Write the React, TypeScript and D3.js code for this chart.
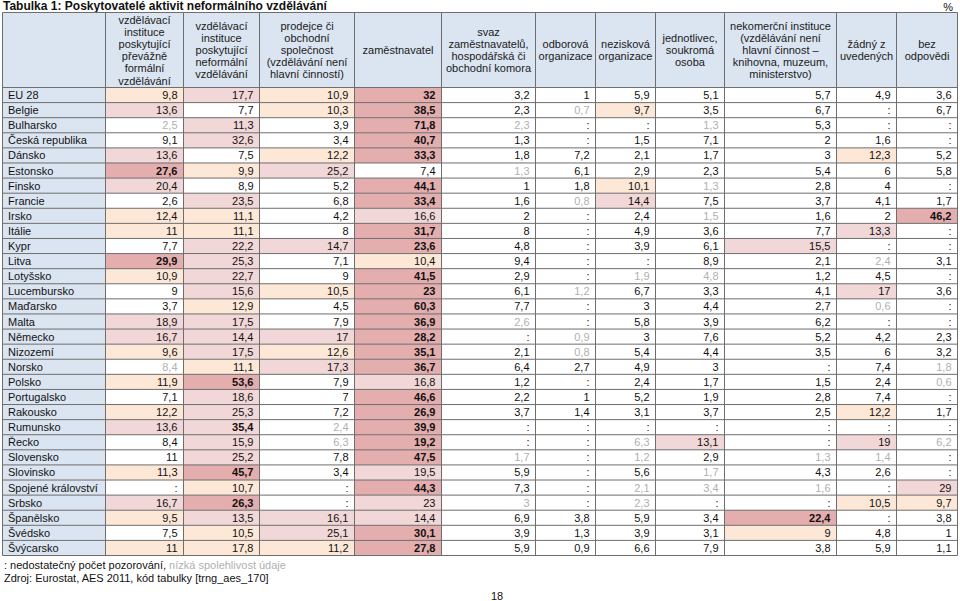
import React from "react";
import * as d3 from "d3";

// ---------- DATA ----------
const title = "Tabulka 1: Poskytovatelé aktivit neformálního vzdělávání";
const unitLabel = "%";

const columnHeaders: string[][] = [
  ["vzdělávací", "instituce", "poskytující", "převážně", "formální", "vzdělávání"],
  ["vzdělávací", "instituce", "poskytující", "neformální", "vzdělávání"],
  ["prodejce či", "obchodní", "společnost", "(vzdělávání není", "hlavní činností)"],
  ["zaměstnavatel"],
  ["svaz", "zaměstnavatelů,", "hospodářská či", "obchodní komora"],
  ["odborová", "organizace"],
  ["nezisková", "organizace"],
  ["jednotlivec,", "soukromá", "osoba"],
  ["nekomerční instituce", "(vzdělávání není", "hlavní činnost –", "knihovna, muzeum,", "ministerstvo)"],
  ["žádný z", "uvedených"],
  ["bez", "odpovědi"],
];

const countries = [
  "EU 28", "Belgie", "Bulharsko", "Česká republika", "Dánsko", "Estonsko", "Finsko",
  "Francie", "Irsko", "Itálie", "Kypr", "Litva", "Lotyšsko", "Lucembursko", "Maďarsko",
  "Malta", "Německo", "Nizozemí", "Norsko", "Polsko", "Portugalsko", "Rakousko",
  "Rumunsko", "Řecko", "Slovensko", "Slovinsko", "Spojené království", "Srbsko",
  "Španělsko", "Švédsko", "Švýcarsko",
];

const N = null;
// values per country (null = ":" insufficient observations)
const values: (number | null)[][] = [
  [9.8, 17.7, 10.9, 32, 3.2, 1, 5.9, 5.1, 5.7, 4.9, 3.6],
  [13.6, 7.7, 10.3, 38.5, 2.3, 0.7, 9.7, 3.5, 6.7, N, 6.7],
  [2.5, 11.3, 3.9, 71.8, 2.3, N, N, 1.3, 5.3, N, N],
  [9.1, 32.6, 3.4, 40.7, 1.3, N, 1.5, 7.1, 2, 1.6, N],
  [13.6, 7.5, 12.2, 33.3, 1.8, 7.2, 2.1, 1.7, 3, 12.3, 5.2],
  [27.6, 9.9, 25.2, 7.4, 1.3, 6.1, 2.9, 2.3, 5.4, 6, 5.8],
  [20.4, 8.9, 5.2, 44.1, 1, 1.8, 10.1, 1.3, 2.8, 4, N],
  [2.6, 23.5, 6.8, 33.4, 1.6, 0.8, 14.4, 7.5, 3.7, 4.1, 1.7],
  [12.4, 11.1, 4.2, 16.6, 2, N, 2.4, 1.5, 1.6, 2, 46.2],
  [11, 11.1, 8, 31.7, 8, N, 4.9, 3.6, 7.7, 13.3, N],
  [7.7, 22.2, 14.7, 23.6, 4.8, N, 3.9, 6.1, 15.5, N, N],
  [29.9, 25.3, 7.1, 10.4, 9.4, N, N, 8.9, 2.1, 2.4, 3.1],
  [10.9, 22.7, 9, 41.5, 2.9, N, 1.9, 4.8, 1.2, 4.5, N],
  [9, 15.6, 10.5, 23, 6.1, 1.2, 6.7, 3.3, 4.1, 17, 3.6],
  [3.7, 12.9, 4.5, 60.3, 7.7, N, 3, 4.4, 2.7, 0.6, N],
  [18.9, 17.5, 7.9, 36.9, 2.6, N, 5.8, 3.9, 6.2, N, N],
  [16.7, 14.4, 17, 28.2, N, 0.9, 3, 7.6, 5.2, 4.2, 2.3],
  [9.6, 17.5, 12.6, 35.1, 2.1, 0.8, 5.4, 4.4, 3.5, 6, 3.2],
  [8.4, 11.1, 17.3, 36.7, 6.4, 2.7, 4.9, 3, N, 7.4, 1.8],
  [11.9, 53.6, 7.9, 16.8, 1.2, N, 2.4, 1.7, 1.5, 2.4, 0.6],
  [7.1, 18.6, 7, 46.6, 2.2, 1, 5.2, 1.9, 2.8, 7.4, N],
  [12.2, 25.3, 7.2, 26.9, 3.7, 1.4, 3.1, 3.7, 2.5, 12.2, 1.7],
  [13.6, 35.4, 2.4, 39.9, N, N, N, N, N, N, N],
  [8.4, 15.9, 6.3, 19.2, N, N, 6.3, 13.1, N, 19, 6.2],
  [11, 25.2, 7.8, 47.5, 1.7, N, 1.2, 2.9, 1.3, 1.4, N],
  [11.3, 45.7, 3.4, 19.5, 5.9, N, 5.6, 1.7, 4.3, 2.6, N],
  [N, 10.7, N, 44.3, 7.3, N, 2.1, 3.4, 1.6, N, 29],
  [16.7, 26.3, N, 23, 3, N, 2.3, N, N, 10.5, 9.7],
  [9.5, 13.5, 16.1, 14.4, 6.9, 3.8, 5.9, 3.4, 22.4, N, 3.8],
  [7.5, 10.5, 25.1, 30.1, 3.9, 1.3, 3.9, 3.1, 9, 4.8, 1],
  [11, 17.8, 11.2, 27.8, 5.9, 0.9, 6.6, 7.9, 3.8, 5.9, 1.1],
];

// highlight class per cell (0 none, 1 light, 2 medium, 3 strong)
const highlight: string[] = [
  "12130000000",
  "20130010000",
  "02030000000",
  "02030000000",
  "20130000010",
  "31200000000",
  "20030010000",
  "02030020000",
  "11020000003",
  "11030000020",
  "02230000200",
  "32010000000",
  "12030000000",
  "02130000020",
  "01030000000",
  "22030000000",
  "22230000000",
  "12130000000",
  "01230000000",
  "13020000000",
  "02030000000",
  "12030000010",
  "22030000000",
  "02030002020",
  "02030000000",
  "13020000000",
  "01030000002",
  "23020000011",
  "12220000300",
  "01230000100",
  "11130000000",
];

// low reliability flags per cell
const lowReliability: string[] = [
  "00000000000",
  "00000100000",
  "10001001000",
  "00000000000",
  "00000000000",
  "00001000000",
  "00000001000",
  "00000100000",
  "00000001000",
  "00000000000",
  "00000000000",
  "00000000010",
  "00000011000",
  "00000100000",
  "00000000010",
  "00001000000",
  "00000100000",
  "00000100000",
  "10000000001",
  "00000000001",
  "00000000000",
  "00000000000",
  "00100000000",
  "00100010001",
  "00001010110",
  "00000001000",
  "00000011100",
  "00001010000",
  "00000000000",
  "00000000000",
  "00000000000",
];

// bold (highest) cells per row: column indexes
const boldCells: number[][] = [
  [3], [3], [3], [3], [3], [0], [3], [3], [10], [3], [3], [0], [3], [3], [3], [3],
  [3], [3], [3], [1], [3], [3], [1, 3], [3], [3], [1], [3], [1], [8], [3], [3],
];

const footnoteA = ": nedostatečný počet pozorování, ";
const footnoteB = "nízká spolehlivost údaje";
const source = "Zdroj: Eurostat, AES 2011, kód tabulky [trng_aes_170]";
const pageNumber = "18";

// ---------- LAYOUT ----------
const W = 960;
const H = 601;
const tableLeft = 2.5;
const colWidths = [103, 78, 76, 95, 87, 94, 60, 60, 69, 112, 60, 61];
const headerTop = 12.5;
const headerBottom = 87.5;
const tableBottom = 555.5;

const fillColors = ["#ffffff", "#fde8d8", "#f1d7d7", "#e4adae"];
const blueBg = "#dbe5f1";
const lineColor = "#6e6e6e";
const grayText = "#b0b0b0";
const font = "Arial, 'Liberation Sans', Helvetica, sans-serif";

function fmt(v: number | null) {
  if (v === null) return ":";
  return String(v).replace(".", ",");
}

export default function App() {
  const edges = [tableLeft, ...Array.from(d3.cumsum(colWidths), (c) => tableLeft + c)];
  const tableRight = edges[edges.length - 1];
  const colIdx = d3.range(columnHeaders.length + 1);
  const x = d3.scaleOrdinal<number, number>().domain(colIdx).range(edges.slice(0, -1));
  const cw = (i: number) => edges[i + 1] - edges[i];
  const y = d3.scaleBand<string>().domain(countries).range([headerBottom, tableBottom]).padding(0);
  const bw = y.bandwidth();
  const lineH = 12.2;
  const headerMid = (headerTop + headerBottom) / 2;

  return (
    <svg
      width={W}
      height={H}
      viewBox={`0 0 ${W} ${H}`}
      style={{ position: "absolute", left: 0, top: 0, background: "#fff" }}
      fontFamily={font}
    >
      <rect x={0} y={0} width={W} height={H} fill="#fff" />
      <text x={3} y={10} fontSize={12} fontWeight="bold" fill="#111">{title}</text>
      <text x={953} y={11} fontSize={11} textAnchor="end" fill="#111">{unitLabel}</text>

      {/* header background */}
      <rect x={tableLeft} y={headerTop} width={tableRight - tableLeft} height={headerBottom - headerTop} fill={blueBg} />
      {/* country column background */}
      <rect x={tableLeft} y={headerBottom} width={cw(0)} height={tableBottom - headerBottom} fill={blueBg} />

      {/* cells */}
      {countries.map((c, r) => (
        <g key={c}>
          {values[r].map((v, j) => {
            const lvl = +highlight[r][j];
            const col = j + 1;
            return lvl > 0 ? (
              <rect key={j} x={x(col)} y={y(c)} width={cw(col)} height={bw} fill={fillColors[lvl]} />
            ) : null;
          })}
        </g>
      ))}

      {/* grid lines */}
      {countries.map((c) => (
        <line key={"h" + c} x1={tableLeft} x2={tableRight} y1={y(c)} y2={y(c)} stroke={lineColor} strokeWidth={1} />
      ))}
      <line x1={tableLeft} x2={tableRight} y1={headerTop} y2={headerTop} stroke={lineColor} />
      <line x1={tableLeft} x2={tableRight} y1={tableBottom} y2={tableBottom} stroke={lineColor} />
      {edges.map((e, i) => (
        <line key={"v" + i} x1={e} x2={e} y1={headerTop} y2={tableBottom} stroke={lineColor} />
      ))}

      {/* header texts */}
      {columnHeaders.map((lines, j) => {
        const col = j + 1;
        const cx = (x(col) as number) + cw(col) / 2;
        const start = headerMid - ((lines.length - 1) * lineH) / 2;
        return (
          <text key={j} fontSize={11} fill="#1a1a1a" textAnchor="middle">
            {lines.map((ln, k) => (
              <tspan key={k} x={cx} y={start + k * lineH + 4}>{ln}</tspan>
            ))}
          </text>
        );
      })}

      {/* row labels and values */}
      {countries.map((c, r) => {
        const yb = (y(c) as number) + bw / 2 + 4;
        return (
          <g key={"t" + c} fontSize={11}>
            <text x={x(0) + 5.5} y={yb} fill="#111">{c}</text>
            {values[r].map((v, j) => {
              const col = j + 1;
              const gray = lowReliability[r][j] === "1";
              const bold = boldCells[r].includes(j);
              return (
                <text
                  key={j}
                  x={(x(col) as number) + cw(col) - 6}
                  y={yb}
                  textAnchor="end"
                  fill={gray ? grayText : "#111"}
                  fontWeight={bold ? "bold" : "normal"}
                >
                  {fmt(v)}
                </text>
              );
            })}
          </g>
        );
      })}

      {/* footnotes */}
      <text x={4} y={569} fontSize={11} fill="#111">
        {footnoteA}
        <tspan fill={grayText}>{footnoteB}</tspan>
      </text>
      <text x={4} y={582} fontSize={11} fill="#111">{source}</text>
      <text x={497} y={600} fontSize={11} textAnchor="middle" fill="#111">{pageNumber}</text>
    </svg>
  );
}
